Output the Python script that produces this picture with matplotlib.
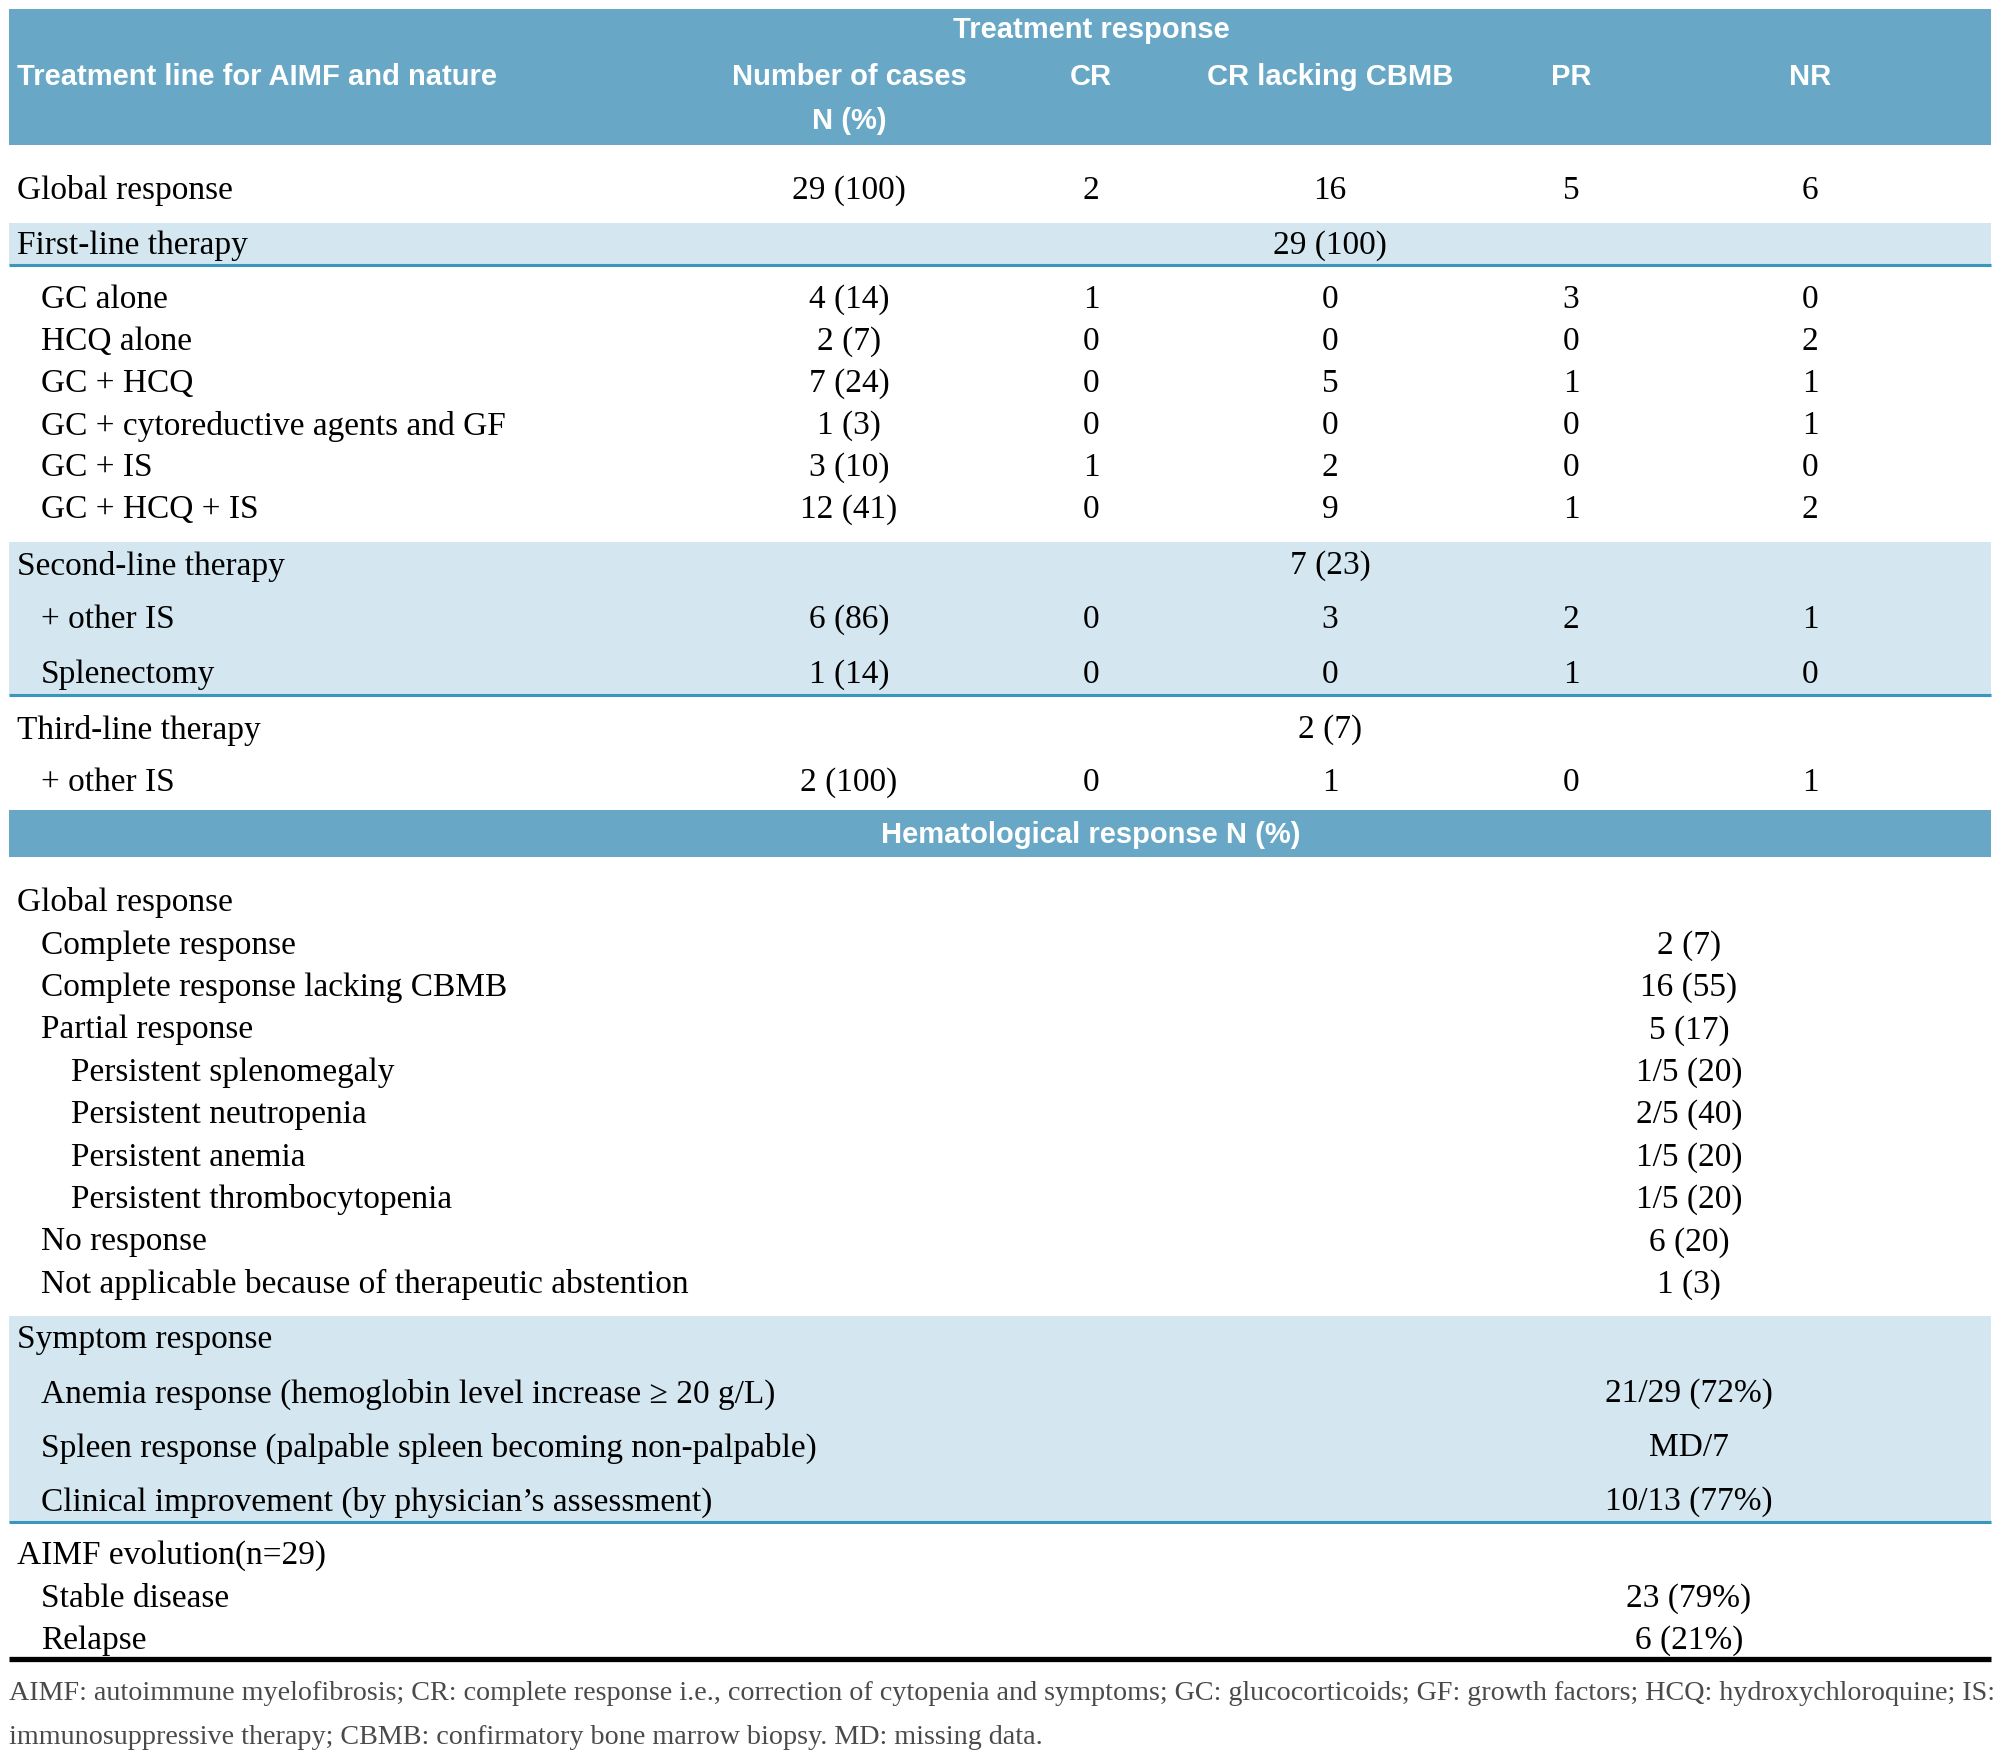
import matplotlib
matplotlib.use("Agg")
import matplotlib.pyplot as plt
from matplotlib import font_manager
from matplotlib.patches import Rectangle

W, H = 2000, 1762  # canvas in pixels, dpi 100

# ---- data -------------------------------------------------------------
col_heads = ["Number of cases", "CR", "CR lacking CBMB", "PR", "NR"]

global_vals = ["29 (100)", "2", "16", "5", "6"]

first_total = "29 (100)"
first_labels = ["GC alone", "HCQ alone", "GC + HCQ",
                "GC + cytoreductive agents and GF", "GC + IS", "GC + HCQ + IS"]
first_n = ["4 (14)", "2 (7)", "7 (24)", "1 (3)", "3 (10)", "12 (41)"]
first_cr = [1, 0, 0, 0, 1, 0]
first_crl = [0, 0, 5, 0, 2, 9]
first_pr = [3, 0, 1, 0, 0, 1]
first_nr = [0, 2, 1, 1, 0, 2]

second_total = "7 (23)"
second_labels = ["+ other IS", "Splenectomy"]
second_n = ["6 (86)", "1 (14)"]
second_cr = [0, 0]
second_crl = [3, 0]
second_pr = [2, 1]
second_nr = [1, 0]

third_total = "2 (7)"
third_labels = ["+ other IS"]
third_n = ["2 (100)"]
third_cr = [0]
third_crl = [1]
third_pr = [0]
third_nr = [1]

hem_labels = ["Global response", "Complete response", "Complete response lacking CBMB",
              "Partial response", "Persistent splenomegaly", "Persistent neutropenia",
              "Persistent anemia", "Persistent thrombocytopenia", "No response",
              "Not applicable because of therapeutic abstention"]
hem_level = [0, 1, 1, 1, 2, 2, 2, 2, 1, 1]
hem_vals = ["", "2 (7)", "16 (55)", "5 (17)", "1/5 (20)", "2/5 (40)",
            "1/5 (20)", "1/5 (20)", "6 (20)", "1 (3)"]

sym_labels = ["Symptom response",
              "Anemia response (hemoglobin level increase \u2265 20 g/L)",
              "Spleen response (palpable spleen becoming non-palpable)",
              "Clinical improvement (by physician\u2019s assessment)"]
sym_level = [0, 1, 1, 1]
sym_vals = ["", "21/29 (72%)", "MD/7", "10/13 (77%)"]

evo_labels = ["AIMF evolution(n=29)", "Stable disease", "Relapse"]
evo_level = [0, 1, 1]
evo_vals = ["", "23 (79%)", "6 (21%)"]

foot1 = ("AIMF: autoimmune myelofibrosis; CR: complete response i.e., correction of cytopenia "
         "and symptoms; GC: glucocorticoids; GF: growth factors; HCQ: hydroxychloroquine; IS:")
foot2 = "immunosuppressive therapy; CBMB: confirmatory bone marrow biopsy. MD: missing data."

# ---- style ------------------------------------------------------------
HEAD_BG = "#68a8c6"
LIGHT_BG = "#d4e6ef"
RULE = "#3a96bd"

def has_font(name):
    return any(f.name == name for f in font_manager.fontManager.ttflist)

BODY = ["Liberation Serif", "DejaVu Serif"]
if has_font("Liberation Sans Narrow"):
    HEAD, HEAD_SIZE = ["Liberation Sans Narrow", "DejaVu Sans"], 25
else:
    HEAD, HEAD_SIZE = ["Liberation Sans", "DejaVu Sans"], 21
BODY_SIZE = 24
DY = 4  # va="center" counts descenders, nudge glyphs down a bit

col_x = [849, 1091, 1330, 1571, 1810]
val_x = 1689
indent = [17, 41, 71]
L, R = 9, 1991

fig = plt.figure(figsize=(W / 100, H / 100), dpi=100)
ax = fig.add_axes([0, 0, 1, 1])
ax.set_xlim(0, W)
ax.set_ylim(H, 0)
ax.axis("off")


def band(y0, y1, color):
    ax.add_patch(Rectangle((L, y0), R - L, y1 - y0, color=color, lw=0, zorder=0))


def rule(y, color=RULE, lw=2.2):
    ax.plot([L, R], [y, y], color=color, lw=lw, solid_capstyle="butt", zorder=1)


def body(x, y, s, ha="left"):
    ax.text(x, y + DY, s, ha=ha, va="center", family=BODY, fontsize=BODY_SIZE, color="black")


def head(x, y, s, ha="center"):
    ax.text(x, y + 2, s, ha=ha, va="center", family=HEAD, fontsize=HEAD_SIZE,
            fontweight="bold", color="white")


def table_rows(ys, labels, n, cr, crl, pr, nr):
    for i, y in enumerate(ys):
        body(indent[1], y, labels[i])
        for x, v in zip(col_x, [n[i], cr[i], crl[i], pr[i], nr[i]]):
            body(x, y, str(v), ha="center")


# header
band(9, 145, HEAD_BG)
head(1091, 28, "Treatment response")
head(indent[0], 75, "Treatment line for AIMF and nature", ha="left")
for x, s in zip(col_x, col_heads):
    head(x, 75, s)
head(col_x[0], 119, "N (%)")

# global response
body(indent[0], 187, "Global response")
for x, v in zip(col_x, global_vals):
    body(x, 187, v, ha="center")

# first-line
band(223, 265, LIGHT_BG)
rule(265)
body(indent[0], 242, "First-line therapy")
body(col_x[2], 242, first_total, ha="center")
table_rows([296 + 42 * i for i in range(len(first_labels))],
           first_labels, first_n, first_cr, first_crl, first_pr, first_nr)

# second-line
band(542, 695, LIGHT_BG)
rule(695)
body(indent[0], 562, "Second-line therapy")
body(col_x[2], 562, second_total, ha="center")
table_rows([616, 671], second_labels, second_n, second_cr, second_crl, second_pr, second_nr)

# third-line
body(indent[0], 726, "Third-line therapy")
body(col_x[2], 726, third_total, ha="center")
table_rows([779], third_labels, third_n, third_cr, third_crl, third_pr, third_nr)

# hematological response
band(810, 857, HEAD_BG)
head(1091, 833, "Hematological response N (%)")
for i, (lab, lev, v) in enumerate(zip(hem_labels, hem_level, hem_vals)):
    y = 899 + 42.4 * i
    body(indent[lev], y, lab)
    if v:
        body(val_x, y, v, ha="center")

# symptom response
band(1316, 1522, LIGHT_BG)
rule(1522)
for i, (lab, lev, v) in enumerate(zip(sym_labels, sym_level, sym_vals)):
    y = 1336 + 54 * i
    body(indent[lev], y, lab)
    if v:
        body(val_x, y, v, ha="center")

# evolution
for i, (lab, lev, v) in enumerate(zip(evo_labels, evo_level, evo_vals)):
    y = 1552 + 42.5 * i
    body(indent[lev], y, lab)
    if v:
        body(val_x, y, v, ha="center")
rule(1659, color="black", lw=3.8)

# footnote, sized to span the table width
fig.canvas.draw()
renderer = fig.canvas.get_renderer()
t1 = ax.text(L, 1694, foot1, ha="left", va="center", family=BODY, fontsize=20, color="#4a4a4a")
w = t1.get_window_extent(renderer).width
t1.set_fontsize(20 * (R - L) / w)
ax.text(L, 1738, foot2, ha="left", va="center", family=BODY,
        fontsize=t1.get_fontsize(), color="#4a4a4a")

fig.savefig("out.png", dpi=100, facecolor="white")
